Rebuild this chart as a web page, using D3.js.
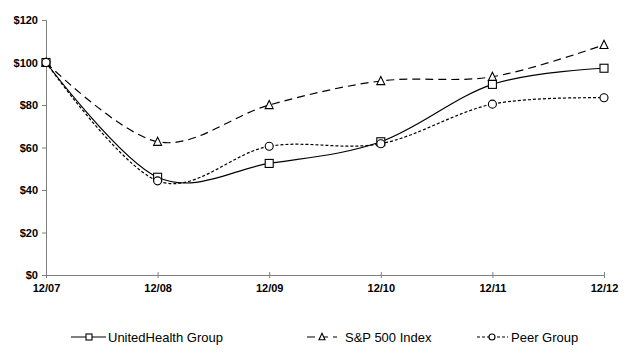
<!DOCTYPE html>
<html><head><meta charset="utf-8">
<script src="https://cdn.jsdelivr.net/npm/d3@7"></script>
<style>body{margin:0;background:#fff}svg{display:block}</style>
</head><body>
<svg id="c" width="637" height="356"></svg>
<script>
const categories = ["12/07","12/08","12/09","12/10","12/11","12/12"];
const unitedHealth = [100, 46.0, 52.5, 62.7, 89.7, 97.3];
const sp500 = [100, 62.7, 80.0, 91.3, 93.3, 108.3];
const peerGroup = [100, 44.3, 60.6, 61.8, 80.4, 83.4];
const yTicks = [0, 20, 40, 60, 80, 100, 120];

const svg = d3.select("#c");
const x = d3.scalePoint().domain(categories).range([46, 604]);
const y = d3.scaleLinear().domain([0, 120]).range([275, 20]);
const axisColor = "#808080";

// Y axis
const ya = svg.append("g").attr("transform", "translate(46,0)")
  .call(d3.axisLeft(y).tickValues(yTicks).tickSize(4).tickPadding(4).tickFormat(d => "$" + d));
ya.select(".domain").attr("stroke", axisColor);
ya.selectAll(".tick line").attr("stroke", axisColor);
ya.selectAll("text").attr("font-family", "Liberation Sans, Arial, sans-serif")
  .attr("font-size", 11).attr("font-weight", "bold").attr("fill", "#000");

// X axis
const xa = svg.append("g").attr("transform", "translate(0,275)")
  .call(d3.axisBottom(x).tickSizeInner(3).tickSizeOuter(0).tickPadding(6));
xa.select(".domain").attr("stroke", axisColor);
xa.selectAll(".tick line").attr("stroke", axisColor).attr("y1", -3).attr("y2", 3);
xa.selectAll("text").attr("font-family", "Liberation Sans, Arial, sans-serif")
  .attr("font-size", 11).attr("font-weight", "bold").attr("fill", "#000");

const series = [
  {name: "UnitedHealth Group", values: unitedHealth, dash: null, marker: "square"},
  {name: "S&P 500 Index", values: sp500, dash: "8,5", marker: "triangle"},
  {name: "Peer Group", values: peerGroup, dash: "3,2", marker: "circle"}
];

const line = d3.line().x((d, i) => x(categories[i])).y(d => y(d)).curve(d3.curveCardinal.tension(0));

function drawMarker(g, type, cx, cy, s) {
  if (type === "square") {
    g.append("rect").attr("x", cx - s/2).attr("y", cy - s/2).attr("width", s).attr("height", s)
      .attr("fill", "#fff").attr("stroke", "#000").attr("stroke-width", 1.1);
  } else if (type === "triangle") {
    const h = s * 0.9;
    g.append("path").attr("d", `M${cx},${cy - h/2 - 1}L${cx + s/2},${cy + h/2}L${cx - s/2},${cy + h/2}Z`)
      .attr("fill", "#fff").attr("stroke", "#000").attr("stroke-width", 1.1);
  } else {
    g.append("circle").attr("cx", cx).attr("cy", cy).attr("r", s/2)
      .attr("fill", "#fff").attr("stroke", "#000").attr("stroke-width", 1.1);
  }
}

const plot = svg.append("g");
series.forEach(s => {
  plot.append("path").attr("d", line(s.values)).attr("fill", "none")
    .attr("stroke", "#000").attr("stroke-width", 1.2)
    .attr("stroke-dasharray", s.dash);
});
series.forEach(s => {
  const g = plot.append("g");
  s.values.forEach((v, i) => drawMarker(g, s.marker, x(categories[i]), y(v), 8));
});

// Legend
const legendItems = [
  {x1: 71, x2: 106, mx: 89, tx: 108},
  {x1: 307, x2: 337, mx: 322, tx: 345},
  {x1: 477, x2: 508, mx: 492, tx: 511}
];
const ly = 337;
series.forEach((s, i) => {
  const L = legendItems[i];
  const g = svg.append("g");
  g.append("line").attr("x1", L.x1).attr("x2", L.x2).attr("y1", ly).attr("y2", ly)
    .attr("stroke", "#000").attr("stroke-width", 1.2).attr("stroke-dasharray", s.dash);
  drawMarker(g, s.marker, L.mx, ly, 6);
  g.append("text").attr("x", L.tx).attr("y", ly).attr("dy", "0.35em")
    .attr("font-family", "Liberation Sans, Arial, sans-serif").attr("font-size", 13)
    .attr("fill", "#000").text(s.name);
});
</script>
</body></html>
